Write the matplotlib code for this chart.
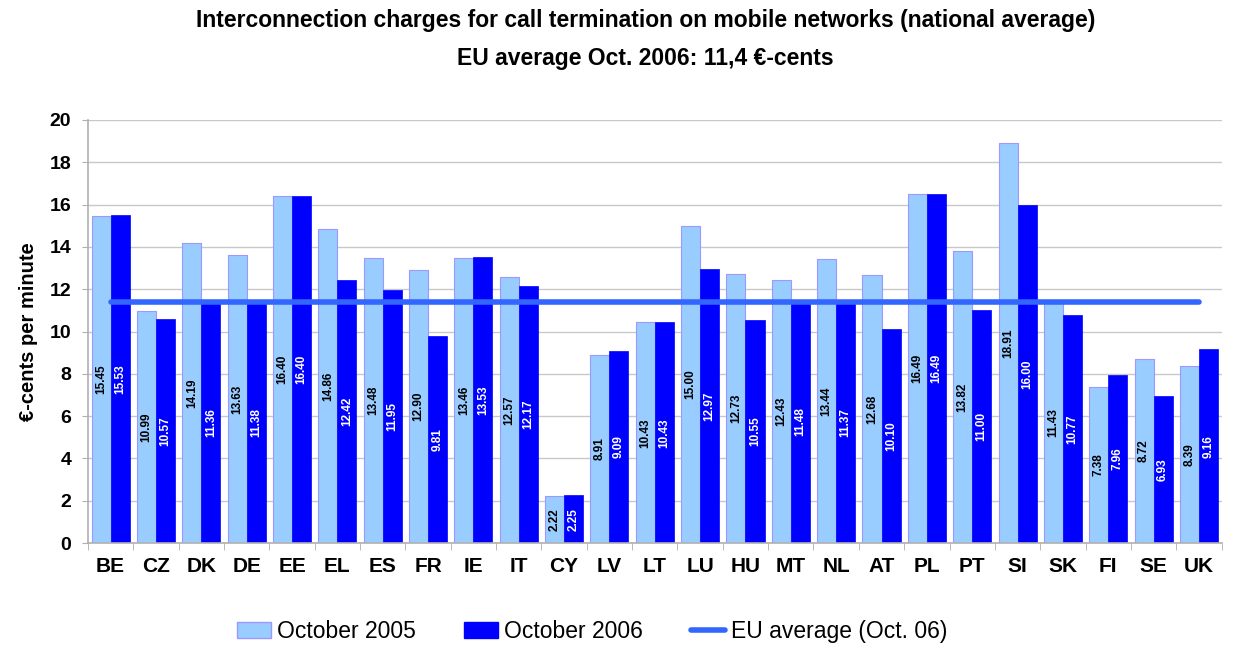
import numpy as np
import matplotlib
matplotlib.use("Agg")
from matplotlib import pyplot as plt
from matplotlib.patches import Patch
from matplotlib.lines import Line2D

countries = ["BE", "CZ", "DK", "DE", "EE", "EL", "ES", "FR", "IE", "IT", "CY", "LV", "LT",
             "LU", "HU", "MT", "NL", "AT", "PL", "PT", "SI", "SK", "FI", "SE", "UK"]
oct_2005 = [15.45, 10.99, 14.19, 13.63, 16.40, 14.86, 13.48, 12.90, 13.46, 12.57, 2.22, 8.91, 10.43,
            15.00, 12.73, 12.43, 13.44, 12.68, 16.49, 13.82, 18.91, 11.43, 7.38, 8.72, 8.39]
oct_2006 = [15.53, 10.57, 11.36, 11.38, 16.40, 12.42, 11.95, 9.81, 13.53, 12.17, 2.25, 9.09, 10.43,
            12.97, 10.55, 11.48, 11.37, 10.10, 16.49, 11.00, 16.00, 10.77, 7.96, 6.93, 9.16]
eu_average = 11.4

plt.rcParams["font.family"] = ["Liberation Sans", "DejaVu Sans"]

light = "#99CCFF"
dark = "#0000FF"
line_col = "#3366FF"

fig = plt.figure(figsize=(12.44, 6.45), dpi=100)
ax = fig.add_axes([0.0707, 0.158, 0.9113, 0.656])

x = np.arange(len(countries))
w = 0.42
ax.bar(x - w / 2, oct_2005, w, color=light, edgecolor="#9999FF", linewidth=0.8, zorder=2)
ax.bar(x + w / 2, oct_2006, w, color=dark, edgecolor=dark, linewidth=0.5, zorder=2)
ax.plot([x[0], x[-1]], [eu_average, eu_average], color=line_col, lw=4, solid_capstyle="round", zorder=3)

# value labels, centred half way up each bar
for xi, v in zip(x, oct_2005):
    ax.text(xi - w / 2, v / 2, f"{v:.2f}", rotation=90, ha="center", va="center",
            fontsize=8.5, color="black", fontweight="bold", zorder=4)
for xi, v in zip(x, oct_2006):
    ax.text(xi + w / 2, v / 2, f"{v:.2f}", rotation=90, ha="center", va="center",
            fontsize=8.5, color="white", fontweight="bold", zorder=4)

ax.set_xlim(-0.5, len(countries) - 0.5)
ax.set_ylim(0, 20)
ax.set_yticks(range(0, 21, 2))
ax.set_yticklabels([str(t) for t in range(0, 21, 2)], fontsize=14, fontweight="bold")
ax.yaxis.grid(True, color="#C8C8C8", lw=1)
ax.set_axisbelow(True)

ax.set_xticks(x)
ax.set_xticklabels(countries, fontsize=15, fontweight="bold")
ax.tick_params(axis="x", length=0, pad=10)
ax.set_xticks(np.arange(-0.5, len(countries), 1), minor=True)
ax.tick_params(axis="x", which="minor", length=5, color="#B0B0B0", direction="out")
ax.tick_params(axis="y", length=4, color="#B0B0B0", pad=8)

for s in ["top", "right"]:
    ax.spines[s].set_visible(False)
for s in ["left", "bottom"]:
    ax.spines[s].set_color("#B0B0B0")
    ax.spines[s].set_linewidth(1.2)

ax.set_ylabel("€-cents per minute", fontsize=14.5, fontweight="bold", labelpad=8)

fig.text(0.519, 0.968, "Interconnection charges for call termination on mobile networks (national average)",
         ha="center", va="center", fontsize=16.5, fontweight="bold")
fig.text(0.519, 0.910, "EU average Oct. 2006: 11,4 €-cents",
         ha="center", va="center", fontsize=16.5, fontweight="bold")

handles = [Patch(facecolor=light, edgecolor="#9999FF"),
           Patch(facecolor=dark, edgecolor=dark),
           Line2D([0], [0], color=line_col, lw=4, solid_capstyle="round")]
fig.legend(handles, ["October 2005", "October 2006", "EU average (Oct. 06)"],
           loc="center", bbox_to_anchor=(0.476, 0.021), ncol=3, frameon=False,
           fontsize=16.5, handlelength=1.5, handletextpad=0.25, columnspacing=2.1)

fig.savefig("out.png", dpi=100)
